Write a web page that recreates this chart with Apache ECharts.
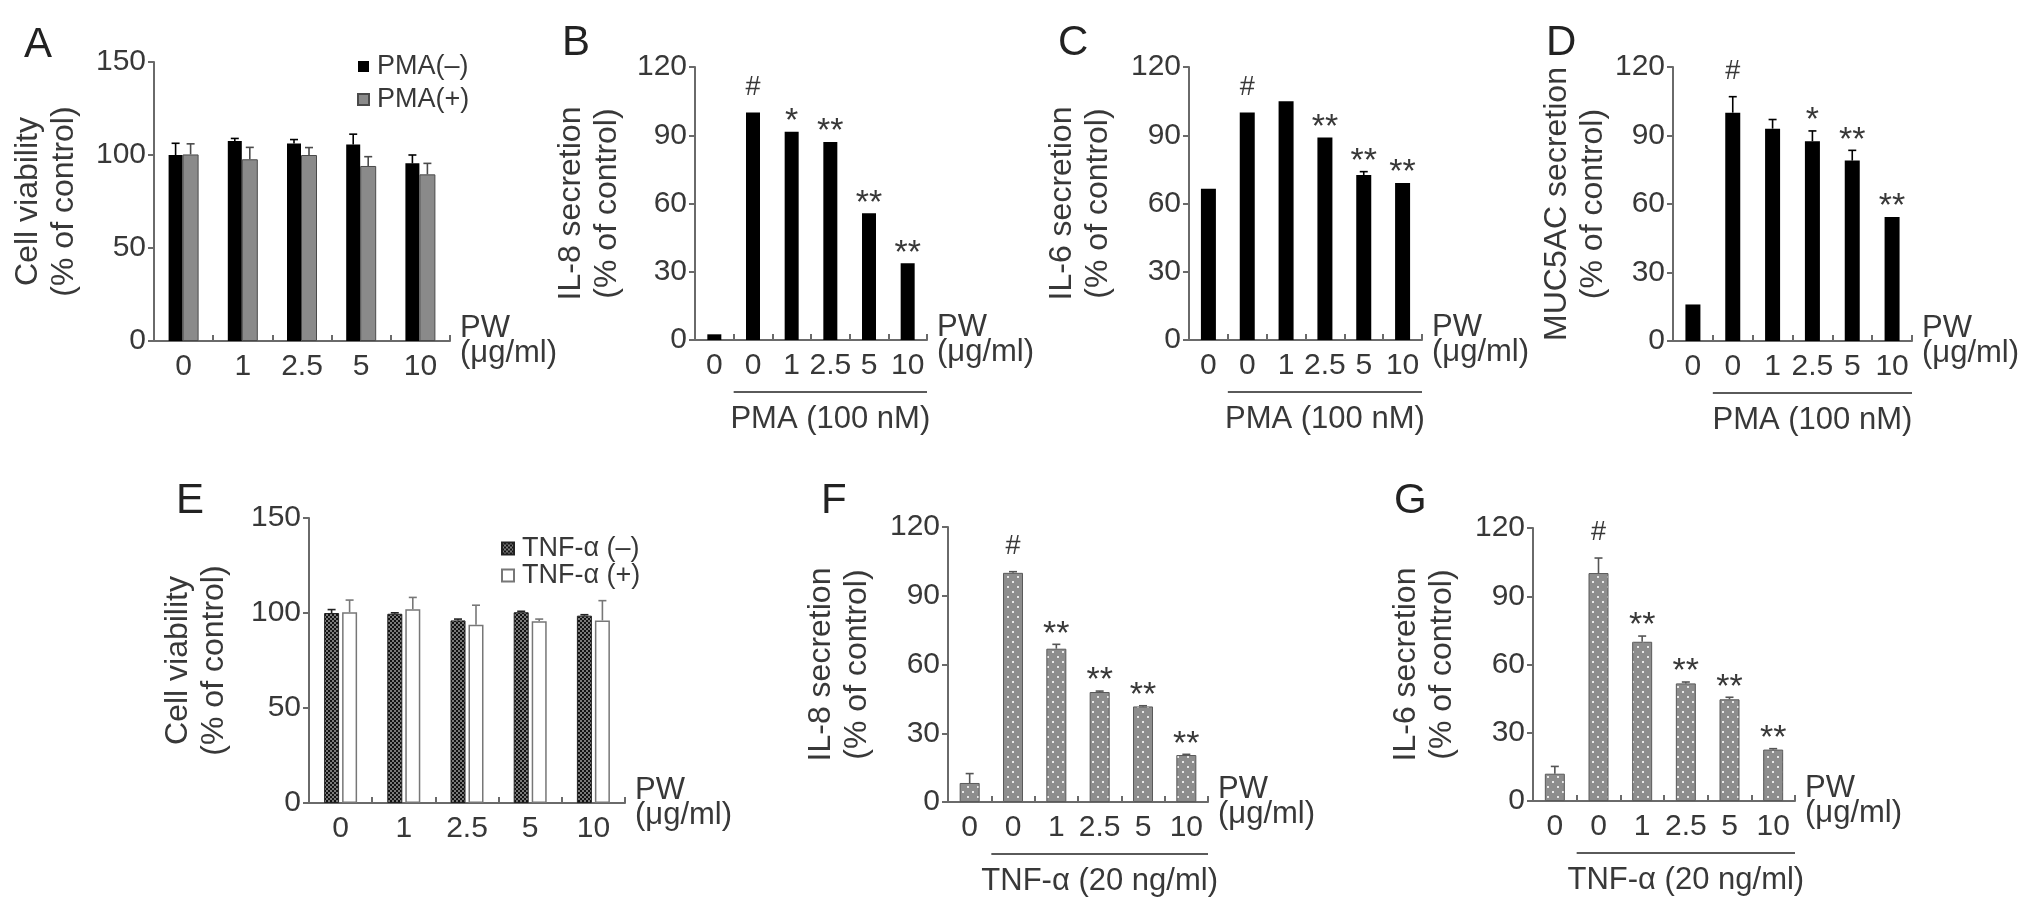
<!DOCTYPE html>
<html><head><meta charset="utf-8">
<script src="https://cdn.jsdelivr.net/npm/echarts@6/dist/echarts.min.js"></script>
<style>html,body{margin:0;padding:0;background:#fff}#c{width:2032px;height:912px}</style>
</head><body><div id="c"></div>
<script>
// ---------------- data ----------------
const catsViability = ['0', '1', '2.5', '5', '10'];
const catsSecretion = ['0', '0', '1', '2.5', '5', '10'];
const viabilityTicks = [0, 50, 100, 150];
const secretionTicks = [0, 30, 60, 90, 120];

// A: PMA cell viability
const aPmaNeg = [100, 107.5, 106.2, 105.7, 95.5];
const aPmaNegErr = [6.3, 1.4, 2.1, 5.5, 4.5];
const aPmaPos = [100.3, 97.7, 100, 94.1, 89.6];
const aPmaPosErr = [5.7, 6.4, 4, 5, 5.9];
// B: IL-8 (PMA)
const bIL8 = [2.5, 100, 91.5, 87, 55.7, 33.7];
const bIL8Err = [0, 0, 0, 0, 0, 0];
const bMarks = ['', '#', '*', '**', '**', '**'];
// C: IL-6 (PMA)
const cIL6 = [66.5, 100, 105, 89, 72.5, 69];
const cIL6Err = [0, 0, 0, 0, 1.5, 0];
const cMarks = ['', '#', '', '**', '**', '**'];
// D: MUC5AC (PMA)
const dMUC = [16, 100, 93, 87.5, 79, 54.3];
const dMUCErr = [0, 7, 4, 4.5, 4.5, 0];
const dMarks = ['', '#', '', '*', '**', '**'];
// E: TNF cell viability
const eTnfNeg = [100, 99.6, 96.1, 100.4, 98.6];
const eTnfNegErr = [1.8, 0.5, 0.7, 0.5, 0.5];
const eTnfPos = [100.4, 102, 93.8, 95.6, 96.1];
const eTnfPosErr = [6.4, 6.2, 10.3, 1.2, 10.4];
// F: IL-8 (TNF)
const fIL8 = [8.3, 100, 66.9, 48, 41.7, 20.5];
const fIL8Err = [4.1, 0.5, 1.9, 0.4, 0.3, 0.3];
const fMarks = ['', '#', '**', '**', '**', '**'];
// G: IL-6 (TNF)
const gIL6 = [12, 100.2, 70, 51.7, 44.7, 22.6];
const gIL6Err = [3.2, 6.6, 2.5, 0.6, 0.9, 0.4];
const gMarks = ['', '#', '**', '**', '**', '**'];

const pmaLabel = 'PMA (100 nM)';
const tnfLabel = 'TNF-α (20 ng/ml)';
const xName = 'PW\n(μg/ml)';

// ---------------- styles ----------------
const FONT = '"Liberation Sans", Arial, Helvetica, sans-serif';
const TXT = '#383838';
const AXC = '#6a6a6a';

function pattern(size, bg, fg, cells) {
  const c = document.createElement('canvas');
  c.width = size; c.height = size;
  const ctx = c.getContext('2d');
  ctx.fillStyle = bg; ctx.fillRect(0, 0, size, size);
  ctx.fillStyle = fg;
  cells.forEach(p => ctx.fillRect(p[0], p[1], p[2], p[2]));
  return { image: c, repeat: 'repeat' };
}
const checker = pattern(4, '#121212', '#7a7a7a', [[0, 0, 2], [2, 2, 2]]);
const dotted = pattern(10, '#8d8d8d', '#e8e8e8', [[2, 1, 2], [7, 6, 2]]);

const markStyle = { '#': { off: 25, size: 27 }, '*': { off: 10, size: 34 }, '**': { off: 10, size: 34 } };

const panels = [
  { letter: 'A', lx: 24, ly: 24, grid: { left: 154, top: 62, width: 296, height: 279 }, cats: catsViability, ticks: viabilityTicks,
    yName: 'Cell viability\n(% of control)', nameGap: 72, gap: 0,
    series: [
      { name: 'PMA(–)', data: aPmaNeg, err: aPmaNegErr, width: 14, item: { color: '#000' }, errColor: '#000' },
      { name: 'PMA(+)', data: aPmaPos, err: aPmaPosErr, width: 16, item: { color: '#8a8a8a', borderColor: '#4a4a4a', borderWidth: 1 }, errColor: '#4a4a4a' }
    ] },
  { letter: 'B', lx: 562, ly: 22, grid: { left: 695, top: 67, width: 232, height: 273 }, cats: catsSecretion, ticks: secretionTicks,
    yName: 'IL-8 secretion\n(% of control)', nameGap: 70, group: pmaLabel,
    series: [{ name: 'B', data: bIL8, err: bIL8Err, marks: bMarks, width: 14, item: { color: '#000' }, errColor: '#000' }] },
  { letter: 'C', lx: 1058, ly: 22, grid: { left: 1189, top: 67, width: 233, height: 273 }, cats: catsSecretion, ticks: secretionTicks,
    yName: 'IL-6 secretion\n(% of control)', nameGap: 73, group: pmaLabel,
    series: [{ name: 'C', data: cIL6, err: cIL6Err, marks: cMarks, width: 15, item: { color: '#000' }, errColor: '#000' }] },
  { letter: 'D', lx: 1546, ly: 22, grid: { left: 1673, top: 67, width: 239, height: 274 }, cats: catsSecretion, ticks: secretionTicks,
    yName: 'MUC5AC secretion\n(% of control)', nameGap: 62, group: pmaLabel,
    series: [{ name: 'D', data: dMUC, err: dMUCErr, marks: dMarks, width: 15, item: { color: '#000' }, errColor: '#000' }] },
  { letter: 'E', lx: 176, ly: 480, grid: { left: 309, top: 518, width: 316, height: 285 }, cats: catsViability, ticks: viabilityTicks,
    yName: 'Cell viability\n(% of control)', nameGap: 77, gap: '20%',
    series: [
      { name: 'TNF-α (–)', data: eTnfNeg, err: eTnfNegErr, width: 15, item: { color: checker, borderColor: '#222', borderWidth: 1 }, errColor: '#222' },
      { name: 'TNF-α (+)', data: eTnfPos, err: eTnfPosErr, width: 15, item: { color: '#fff', borderColor: '#777', borderWidth: 1.5 }, errColor: '#777' }
    ] },
  { letter: 'F', lx: 821, ly: 480, grid: { left: 948, top: 527, width: 260, height: 275 }, cats: catsSecretion, ticks: secretionTicks,
    yName: 'IL-8 secretion\n(% of control)', nameGap: 73, group: tnfLabel,
    series: [{ name: 'F', data: fIL8, err: fIL8Err, marks: fMarks, width: 20, item: { color: dotted, borderColor: '#5a5a5a', borderWidth: 1 }, errColor: '#555' }] },
  { letter: 'G', lx: 1394, ly: 480, grid: { left: 1533, top: 528, width: 262, height: 273 }, cats: catsSecretion, ticks: secretionTicks,
    yName: 'IL-6 secretion\n(% of control)', nameGap: 73, group: tnfLabel,
    series: [{ name: 'G', data: gIL6, err: gIL6Err, marks: gMarks, width: 20, item: { color: dotted, borderColor: '#5a5a5a', borderWidth: 1 }, errColor: '#555' }] }
];

const grids = [], xAxes = [], yAxes = [], series = [], graphics = [];

function errRender(vals, errs, marks, offset, color) {
  return function (params, api) {
    const i = params.dataIndex;
    const v = vals[i], e = errs[i];
    const base = api.coord([i, v]);
    const top = api.coord([i, v + e]);
    const x = base[0] + offset;
    const children = [];
    if (e > 0) {
      children.push({ type: 'line', shape: { x1: x, y1: base[1], x2: x, y2: top[1] }, style: { stroke: color, lineWidth: 1.6 } });
      children.push({ type: 'line', shape: { x1: x - 4, y1: top[1], x2: x + 4, y2: top[1] }, style: { stroke: color, lineWidth: 1.6 } });
    }
    if (marks && marks[i]) {
      const ms = markStyle[marks[i]];
      children.push({ type: 'text', x: x, y: top[1] - ms.off,
        style: { text: marks[i], fill: TXT, fontSize: ms.size, fontFamily: FONT, align: 'center', verticalAlign: 'middle' } });
    }
    return { type: 'group', children: children };
  };
}

function bracketRender(cats, label) {
  return function (params, api) {
    const first = api.coord([1, 0]);
    const last = api.coord([cats.length - 1, 0]);
    const band = api.size([1, 0])[0];
    const x1 = first[0] - band / 2, x2 = last[0] + band / 2;
    const y = first[1] + 52;
    return { type: 'group', children: [
      { type: 'line', shape: { x1: x1, y1: y, x2: x2, y2: y }, style: { stroke: '#5a5a5a', lineWidth: 2 } },
      { type: 'text', x: (x1 + x2) / 2, y: y + 27, style: { text: label, fill: TXT, fontSize: 31, fontFamily: FONT, align: 'center', verticalAlign: 'middle' } }
    ] };
  };
}

panels.forEach((p, gi) => {
  grids.push(p.grid);
  const t = p.ticks;
  xAxes.push({
    type: 'category', gridIndex: gi, data: p.cats,
    axisLine: { show: true, lineStyle: { color: AXC, width: 2 } },
    axisTick: { show: true, inside: true, length: 6, interval: 0, lineStyle: { color: AXC, width: 2 } },
    axisLabel: { interval: 0, margin: 11, fontSize: 30, color: TXT, fontFamily: FONT },
    name: xName, nameLocation: 'end', nameGap: 10,
    nameTextStyle: { fontSize: 31, lineHeight: 25, color: TXT, fontFamily: FONT, align: 'left', verticalAlign: 'middle', padding: [38, 0, 0, 0] }
  });
  yAxes.push({
    type: 'value', gridIndex: gi, min: t[0], max: t[t.length - 1], interval: t[1] - t[0],
    axisLine: { show: true, lineStyle: { color: AXC, width: 2 } },
    axisTick: { show: true, length: 6, lineStyle: { color: AXC, width: 2 } },
    axisLabel: { margin: 8, fontSize: 30, color: TXT, fontFamily: FONT },
    splitLine: { show: false },
    name: p.yName, nameLocation: 'middle', nameGap: p.nameGap,
    nameTextStyle: { fontSize: 32, lineHeight: 36, color: TXT, fontFamily: FONT }
  });
  const n = p.series.length;
  let offsets = [0];
  if (n === 2) {
    const w0 = p.series[0].width, w1 = p.series[1].width;
    const g = typeof p.gap === 'string' ? parseFloat(p.gap) / 100 * w0 : p.gap;
    const total = w0 + g + w1;
    offsets = [-total / 2 + w0 / 2, total / 2 - w1 / 2];
  }
  p.series.forEach((s, si) => {
    series.push({
      type: 'bar', name: s.name, xAxisIndex: gi, yAxisIndex: gi, data: s.data,
      barWidth: s.width, barGap: p.gap !== undefined ? p.gap : '0%', itemStyle: s.item, z: 2,
      emphasis: { disabled: true }
    });
    series.push({
      type: 'custom', xAxisIndex: gi, yAxisIndex: gi, silent: true, clip: false, z: 5,
      data: s.data.map((v, i) => [i, v]),
      renderItem: errRender(s.data, s.err, s.marks, offsets[si], s.errColor)
    });
  });
  if (p.group) {
    series.push({
      type: 'custom', xAxisIndex: gi, yAxisIndex: gi, silent: true, clip: false, z: 5,
      data: [[1, 0]], renderItem: bracketRender(p.cats, p.group)
    });
  }
  graphics.push({ type: 'text', left: p.lx, top: p.ly, style: { text: p.letter, fill: '#222', fontSize: 42, fontFamily: FONT } });
});

const legendText = { fontSize: 27, lineHeight: 27, color: TXT, fontFamily: FONT, padding: [0, 0, 0, 3] };
const option = {
  animation: false,
  backgroundColor: '#fff',
  grid: grids, xAxis: xAxes, yAxis: yAxes, series: series,
  graphic: graphics,
  legend: [
    { data: ['PMA(–)', 'PMA(+)'], orient: 'vertical', left: 352, top: 48, itemWidth: 11, itemHeight: 11, itemGap: 6, icon: 'rect', textStyle: legendText, selectedMode: false },
    { data: ['TNF-α (–)', 'TNF-α (+)'], orient: 'vertical', left: 496, top: 530, itemWidth: 12, itemHeight: 12, itemGap: 0, icon: 'rect', textStyle: legendText, selectedMode: false }
  ]
};
const chart = echarts.init(document.getElementById('c'), null, { renderer: 'canvas' });
chart.setOption(option);
</script></body></html>
